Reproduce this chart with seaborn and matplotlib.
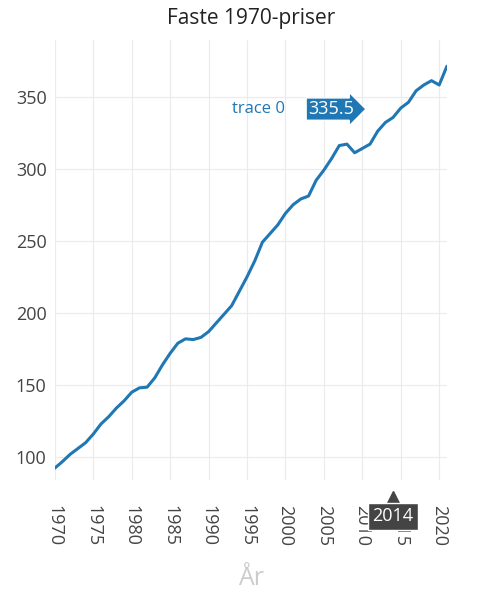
import matplotlib
matplotlib.use("Agg")
import matplotlib.pyplot as plt
import matplotlib.transforms as mtransforms
import seaborn as sns
import pandas as pd

years = list(range(1970, 2022))
values = [92.4, 97, 102, 106, 110, 116, 123, 128, 134, 139,
          145, 148, 148.5, 155, 164, 172, 179, 182, 181.5, 183,
          187, 193, 199, 205, 215, 225, 236, 249, 255, 261,
          269, 275, 279, 281, 292, 299, 307, 316, 317, 311,
          314, 317, 326, 332, 335.5, 342, 346, 354, 358, 361,
          358, 371]
hover_year = 2014
hover_value = 335.5

df = pd.DataFrame({"year": years, "value": values})

sns.set_style("whitegrid", {"grid.color": "#ebebeb", "axes.edgecolor": "white"})
plt.rcParams["font.family"] = ["Open Sans", "DejaVu Sans"]

fig = plt.figure(figsize=(4.9, 6.01), dpi=100)
ax = fig.add_axes([0.112, 0.201, 0.8, 0.732])
sns.lineplot(data=df, x="year", y="value", color="#1f77b4", lw=2.2, ax=ax)

ax.set_xlim(1970, 2021)
ax.set_ylim(84, 389)
ax.set_xticks(range(1970, 2021, 5))
ax.set_yticks(range(100, 351, 50))
ax.tick_params(axis="x", labelrotation=-90, labelsize=13, colors="#444444", length=0, pad=18)
ax.tick_params(axis="y", labelsize=13, colors="#444444", length=0, pad=6)
for s in ax.spines.values():
    s.set_visible(False)
ax.set_ylabel("")
ax.set_xlabel("År", fontsize=18, color="#cccccc", labelpad=14)
ax.set_title("Faste 1970-priser", fontsize=15, color="#222222", pad=12)

# hover labels
ax.annotate(f"{hover_value}", xy=(hover_year, hover_value), xytext=(-28, 6),
            textcoords="offset points", ha="right", va="center", fontsize=13,
            color="white", bbox=dict(boxstyle="rarrow,pad=0.12", fc="#1f77b4", ec="white"))
ax.annotate("trace 0", xy=(hover_year, hover_value), xytext=(-78, 6),
            textcoords="offset points", ha="right", va="center", fontsize=12,
            color="#1f77b4")
ax.annotate(str(hover_year), xy=(hover_year, 84), xytext=(0, -26),
            textcoords="offset points", ha="center", va="center", fontsize=13,
            color="white", annotation_clip=False,
            bbox=dict(boxstyle="square,pad=0.25", fc="#444444", ec="white"))
tri, = ax.plot([hover_year], [84], marker="^", color="#444444", markersize=8, clip_on=False)
tri.set_transform(ax.transData + mtransforms.ScaledTranslation(0, -12/72, fig.dpi_scale_trans))

fig.savefig("out.png", dpi=100)
